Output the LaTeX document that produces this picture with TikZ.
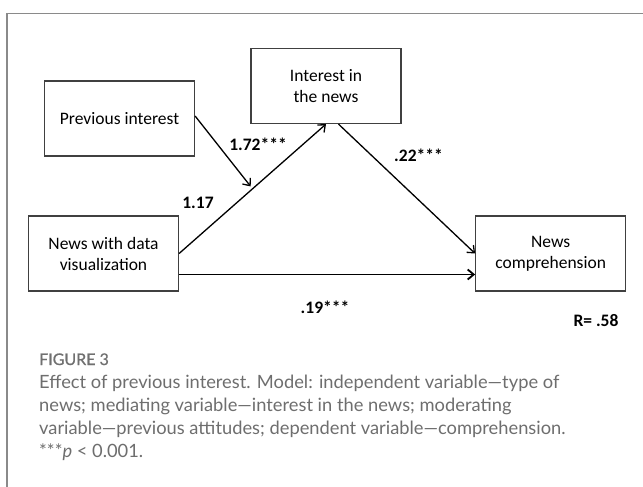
\documentclass[tikz,border=0pt]{standalone}
\usepackage{fontspec}
\setmainfont{Carlito}
\newfontfamily\capfont{Lato}
\newfontfamily\figfont{Lato}[FakeBold=0.6]
\usetikzlibrary{arrows.meta}
\definecolor{boxgray}{HTML}{404040}
\definecolor{framegray}{HTML}{8A8A8A}
\definecolor{capgray}{HTML}{707070}
\definecolor{captext}{HTML}{6E6E6E}
\begin{document}
\begin{tikzpicture}[x=1pt,y=-1pt,
  box/.style={draw=boxgray, line width=1.2pt, minimum width=150pt, minimum height=75pt,
    align=center, inner sep=0pt, font=\fontsize{17.5}{21}\selectfont},
  conn/.style={line width=1.3pt, -{Straight Barb[length=6pt,width=10pt]}},
  lab/.style={inner sep=0pt, font=\fontsize{17.5}{20}\selectfont\bfseries},
  capline/.style={anchor=base west, inner sep=0pt, text=captext, font=\capfont\fontsize{18.3}{23}\selectfont}]
\useasboundingbox (0,0) rectangle (643,487);
\fill[white] (0,0) rectangle (643,487);
\draw[framegray, line width=1.4pt] (650,13.5) -- (6.8,13.5) -- (6.8,495);

\node[box] (interest) at (326,86) {Interest in\\the news};
\node[box] (prev) at (119.5,118.5) {Previous interest};
\node[box] (data) at (103.5,253.5) {News with data\\visualization};
\node[box] (comp) at (550.7,253.5) {News\\comprehension};

\draw[conn] (data.east) -- (interest.south) coordinate[pos=0.5] (mod);
\draw[conn, shorten >=3pt] ([yshift=2.5pt]prev.east) -- (mod);
\draw[conn] ([xshift=12.5pt]interest.south) -- (comp.west);
\draw[conn, line width=1.8pt] ([yshift=-21pt]data.east) -- ([yshift=-21pt]comp.west);

\node[lab] (l172) at (258,144) {1.72***};
\node[lab] (l22) at (418.5,155) {.22***};
\node[lab] (l117) at (198,203) {1.17};
\node[lab] (l19) at (325,307) {.19***};
\node[lab] (lr) at (596,321) {R= .58};

\node[capline, text=capgray, font=\figfont\fontsize{16}{18}\selectfont] (fig) at (39,365) {FIGURE 3};
\node[capline] (c1) at (39,388) {Effect of previous interest. Model: independent variable—type of};
\node[capline] (c2) at (39,411) {news; mediating variable—interest in the news; moderating};
\node[capline] (c3) at (39,434) {variable—previous attitudes; dependent variable—comprehension.};
\node[capline] (c4) at (39,457) {***\textit{p} < 0.001.};
\end{tikzpicture}
\end{document}
